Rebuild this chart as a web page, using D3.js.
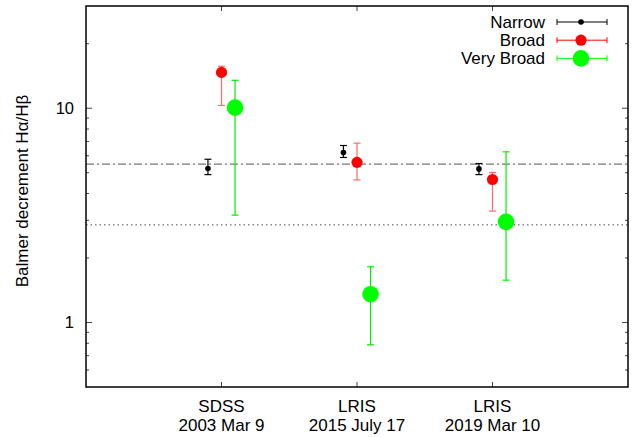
<!DOCTYPE html>
<html><head><meta charset="utf-8">
<script src="https://cdn.jsdelivr.net/npm/d3@7"></script>
<style>body{margin:0;background:#fff}svg{display:block}text{font-family:"Liberation Sans",Arial,sans-serif;fill:#000}</style>
</head><body><svg id="c" width="644" height="437"></svg>
<script>
const categories = ["SDSS\n2003 Mar 9", "LRIS\n2015 July 17", "LRIS\n2019 Mar 10"];
const seriesNames = ["Narrow", "Broad", "Very Broad"];
const narrowVal = [5.23, 6.21, 5.21];
const narrowLo  = [4.90, 5.89, 4.90];
const narrowHi  = [5.78, 6.70, 5.52];
const broadVal  = [14.7, 5.59, 4.65];
const broadLo   = [10.3, 4.63, 3.31];
const broadHi   = [15.7, 6.87, 5.01];
const vbVal     = [10.07, 1.355, 2.95];
const vbLo      = [3.17, 0.787, 1.576];
const vbHi      = [13.5, 1.82, 6.26];
const refLines  = [5.48, 2.86];
const yTickLabels = [1, 10];

const W=644,H=437, m={l:86,r:16,t:6,b:50};
const svg=d3.select("#c");
const x=d3.scaleLinear().domain([0,4]).range([m.l,W-m.r]);
const y=d3.scaleLog().domain([0.5,30]).range([H-m.b,m.t]);
const X0=m.l,X1=W-m.r,Y0=m.t,Y1=H-m.b;

// ref lines
svg.append("line").attr("x1",X0).attr("x2",X1).attr("y1",y(refLines[0])).attr("y2",y(refLines[0]))
 .attr("stroke","#777").attr("stroke-width",1.2).attr("stroke-dasharray","8,3,2,3");
svg.append("line").attr("x1",X0).attr("x2",X1).attr("y1",y(refLines[1])).attr("y2",y(refLines[1]))
 .attr("stroke","#888").attr("stroke-width",1.4).attr("stroke-dasharray","1.5,3");

// ticks
const minor=[];
[0.1,1,10].forEach(d=>{for(let k=1;k<10;k++){const v=d*k;if(v>0.5&&v<30&&v!==1&&v!==10)minor.push(v);}});
const tg=svg.append("g").attr("stroke","#444").attr("stroke-width",1);
yTickLabels.forEach(v=>{
  tg.append("line").attr("x1",X0).attr("x2",X0+6).attr("y1",y(v)).attr("y2",y(v));
  tg.append("line").attr("x1",X1).attr("x2",X1-6).attr("y1",y(v)).attr("y2",y(v));
  svg.append("text").attr("x",X0-12).attr("y",y(v)+6).attr("text-anchor","end").attr("font-size",16.5).text(v);
});
minor.forEach(v=>{
  tg.append("line").attr("x1",X0).attr("x2",X0+3).attr("y1",y(v)).attr("y2",y(v));
  tg.append("line").attr("x1",X1).attr("x2",X1-3).attr("y1",y(v)).attr("y2",y(v));
});
categories.forEach((c,i)=>{
  const xx=x(i+1);
  tg.append("line").attr("x1",xx).attr("x2",xx).attr("y1",Y1).attr("y2",Y1-5);
  tg.append("line").attr("x1",xx).attr("x2",xx).attr("y1",Y0).attr("y2",Y0+5);
  const t=svg.append("text").attr("text-anchor","middle").attr("font-size",17);
  c.split("\n").forEach((s,j)=>t.append("tspan").attr("x",xx).attr("y",412+j*18.5).text(s));
});

// box
svg.append("rect").attr("x",X0).attr("y",Y0).attr("width",X1-X0).attr("height",Y1-Y0)
 .attr("fill","none").attr("stroke","#000").attr("stroke-width",1.5);

// y label
svg.append("text").attr("transform","translate(28,191) rotate(-90)").attr("text-anchor","middle")
 .attr("font-size",17).text("Balmer decrement Hα/Hβ");

// series
const series=[
 {name:seriesNames[0],v:narrowVal,lo:narrowLo,hi:narrowHi,off:-0.1,col:"#000",bar:"#000",r:2.8},
 {name:seriesNames[1],v:broadVal,lo:broadLo,hi:broadHi,off:0,col:"#ff0000",bar:"#ff6a6a",r:5.6},
 {name:seriesNames[2],v:vbVal,lo:vbLo,hi:vbHi,off:0.1,col:"#00ff00",bar:"#00ee00",r:8.3}
];
series.forEach(s=>{
  const g=svg.append("g");
  s.v.forEach((v,i)=>{
    const xx=x(i+1+s.off);
    g.append("line").attr("x1",xx).attr("x2",xx).attr("y1",y(s.lo[i])).attr("y2",y(s.hi[i])).attr("stroke",s.bar).attr("stroke-width",1.2);
    [s.lo[i],s.hi[i]].forEach(e=>g.append("line").attr("x1",xx-3.5).attr("x2",xx+3.5).attr("y1",y(e)).attr("y2",y(e)).attr("stroke",s.bar).attr("stroke-width",1.2));
    g.append("circle").attr("cx",xx).attr("cy",y(v)).attr("r",s.r).attr("fill",s.col);
  });
});

// legend
series.forEach((s,i)=>{
  const ly=22+i*18.2;
  svg.append("text").attr("x",545).attr("y",ly+6).attr("text-anchor","end").attr("font-size",17).text(s.name);
  const lc = i===0?"#000":s.col;
  svg.append("line").attr("x1",557).attr("x2",607).attr("y1",ly).attr("y2",ly).attr("stroke",lc).attr("stroke-width",1);
  [557,607].forEach(xx=>svg.append("line").attr("x1",xx).attr("x2",xx).attr("y1",ly-3).attr("y2",ly+3).attr("stroke",lc).attr("stroke-width",1));
  svg.append("circle").attr("cx",581).attr("cy",ly).attr("r",s.r).attr("fill",s.col);
});
</script></body></html>
